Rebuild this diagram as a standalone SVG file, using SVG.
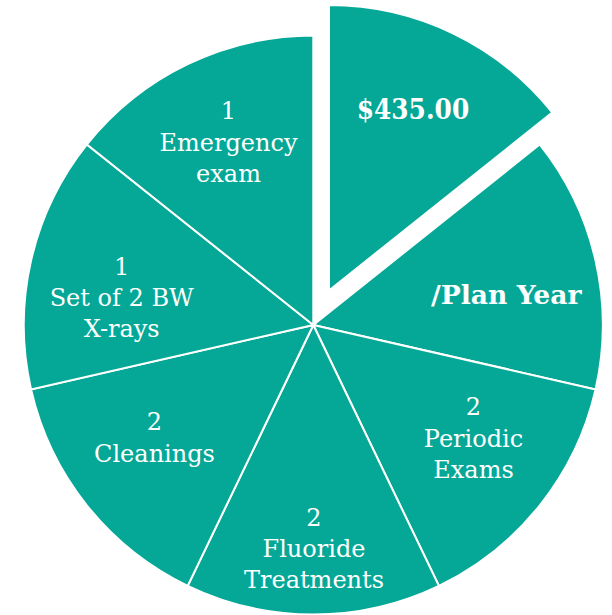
<svg xmlns="http://www.w3.org/2000/svg" width="612" height="615" viewBox="0 0 612 615">
<style>
.slice{fill:#05A896;stroke:#FFFFFF;stroke-width:2;stroke-linejoin:miter}
.lbl{font-family:"DejaVu Serif","Liberation Serif",serif;font-size:24px;fill:#FFFFFF;text-anchor:middle}
.big{font-family:"DejaVu Serif","Liberation Serif",serif;font-weight:bold;fill:#FFFFFF}
</style>
<rect width="612" height="615" fill="#FFFFFF"/>
<g id="slice-price">
<path class="slice" d="M329,290.5 L329,5 A285.5,285.5 0 0 1 552.2,112.5 Z"/>
<text class="big" x="356.7" y="119" font-size="27" textLength="112.5" lengthAdjust="spacingAndGlyphs">$435.00</text>
</g>
<g id="slice-planyear">
<path class="slice" d="M313.3,325 L539.64,144.5 A289.5,289.5 0 0 1 595.54,389.42 Z"/>
<text class="big" x="431" y="304" font-size="25.5" textLength="150.5" lengthAdjust="spacingAndGlyphs">/Plan Year</text>
</g>
<g id="slice-periodic">
<path class="slice" d="M313.3,325 L595.54,389.42 A289.5,289.5 0 0 1 438.91,585.83 Z"/>
<text class="lbl" x="473.5" y="415">2</text>
<text class="lbl" x="473.5" y="446.5">Periodic</text>
<text class="lbl" x="473.5" y="477.5">Exams</text>
</g>
<g id="slice-fluoride">
<path class="slice" d="M313.3,325 L438.91,585.83 A289.5,289.5 0 0 1 187.69,585.83 Z"/>
<text class="lbl" x="314" y="526">2</text>
<text class="lbl" x="314" y="557">Fluoride</text>
<text class="lbl" x="314" y="588">Treatments</text>
</g>
<g id="slice-cleanings">
<path class="slice" d="M313.3,325 L187.69,585.83 A289.5,289.5 0 0 1 31.06,389.42 Z"/>
<text class="lbl" x="154.5" y="430">2</text>
<text class="lbl" x="154.5" y="461.5">Cleanings</text>
</g>
<g id="slice-xrays">
<path class="slice" d="M313.3,325 L31.06,389.42 A289.5,289.5 0 0 1 86.96,144.5 Z"/>
<text class="lbl" x="121.7" y="275">1</text>
<text class="lbl" x="121.7" y="306">Set of 2 BW</text>
<text class="lbl" x="121.7" y="337">X-rays</text>
</g>
<g id="slice-emergency">
<path class="slice" d="M313.3,325 L86.96,144.5 A289.5,289.5 0 0 1 313.3,35.5 Z"/>
<text class="lbl" x="228.5" y="119">1</text>
<text class="lbl" x="228.5" y="151">Emergency</text>
<text class="lbl" x="228.5" y="182">exam</text>
</g>
<g id="connectors"></g>
</svg>
